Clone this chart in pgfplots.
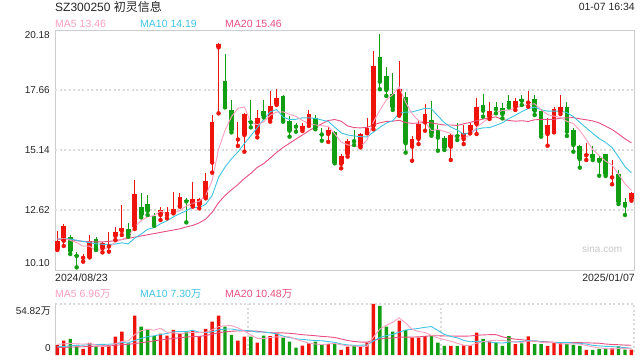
\documentclass[border=0pt]{standalone}
\usepackage{fontspec}
\setmainfont{Liberation Sans}
\newfontfamily\cjk{Noto Sans CJK SC}
\usepackage{pgfplots}
\pgfplotsset{compat=1.18}
\usepackage{pgfplotstable}

\definecolor{kred}{RGB}{238,20,12}
\definecolor{kgreen}{RGB}{18,158,18}
\definecolor{ma5c}{RGB}{250,160,192}
\definecolor{ma10c}{RGB}{64,196,228}
\definecolor{ma20c}{RGB}{232,80,128}
\definecolor{framec}{RGB}{205,205,205}
\definecolor{gridc}{RGB}{218,218,218}

\pgfplotstableread{
i o h l c v
0 10.98 11.74 10.94 11.33 10.75
1 11.33 12.03 11.11 11.96 15.4
4 10.61 10.77 10.45 10.62 6.5
5 10.66 11.57 10.63 11.33 12.9
7 11.01 11.29 10.84 11.22 8.9
8 11.09 11.71 10.87 11.13 10.0
9 11.53 11.92 11.36 11.70 19.7
10 11.74 12.83 11.57 11.86 25.0
12 11.92 13.88 11.82 13.29 42.3
16 12.41 12.76 12.20 12.61 22.9
17 12.41 12.73 12.27 12.55 20.8
18 12.51 13.36 12.48 12.66 26.9
19 12.80 13.32 12.76 13.17 23.3
21 12.80 13.78 12.76 13.07 25.8
22 12.84 13.14 12.69 13.09 20.4
23 13.15 14.19 13.11 13.84 28.0
24 14.61 16.61 14.19 16.32 35.8
25 19.45 19.64 16.68 19.58 42.3
28 15.58 16.32 15.31 15.60 15.4
29 15.77 16.69 15.07 16.65 19.7
31 15.84 16.82 15.67 16.47 13.3
33 16.43 17.62 16.33 16.99 20.4
34 17.08 17.69 17.03 17.32 23.3
38 16.01 16.29 15.94 16.15 10.0
39 16.26 16.82 16.15 16.65 12.6
42 15.81 16.09 15.48 15.98 11.8
44 14.56 14.97 14.37 14.89 5.4
45 14.98 15.60 14.86 15.52 8.9
47 15.31 15.87 15.25 15.80 8.9
48 15.91 16.47 15.84 16.08 13.2
49 16.15 19.30 16.01 18.67 54.82
53 16.62 18.88 16.58 17.69 36.9
55 15.28 15.74 14.69 15.60 18.6
56 15.61 16.40 15.39 16.23 18.6
57 16.30 17.07 15.95 16.65 20.4
61 15.28 15.80 14.72 15.76 9.7
63 15.60 16.19 15.39 15.87 10.4
64 15.98 16.26 15.84 16.19 10.4
65 16.23 17.31 15.81 16.93 24.0
67 16.54 17.14 16.44 16.78 14.3
71 16.96 17.31 16.82 17.20 11.8
73 17.13 17.63 16.96 17.15 20.1
76 15.81 16.47 15.32 16.19 9.7
77 15.91 16.93 15.88 16.86 13.3
78 16.75 17.45 16.65 16.93 13.3
82 14.92 15.42 14.72 14.94 5.6
86 13.99 14.72 13.70 14.00 7.0
89 13.09 13.39 13.01 13.32 5.9
}\redT

\pgfplotstableread{
i o h l c v
2 11.47 11.56 10.77 10.91 17.2
3 10.70 10.87 10.21 10.69 8.9
6 11.39 11.50 10.94 10.99 8.9
11 11.81 12.06 11.50 11.57 12.6
13 12.75 13.32 12.31 12.41 30.5
14 12.87 13.25 12.41 12.58 27.6
15 12.37 12.48 11.95 12.03 20.4
20 13.02 13.11 12.10 12.98 25.0
26 18.04 19.17 16.93 16.96 30.5
27 16.82 17.24 15.88 15.98 21.5
30 16.33 17.24 16.09 16.30 19.7
32 16.78 17.24 16.51 16.57 20.8
35 17.41 17.45 16.33 16.37 18.6
36 16.36 16.57 15.70 15.95 14.3
37 16.19 16.26 15.91 16.12 7.9
40 16.47 16.61 16.01 16.08 14.3
41 15.81 16.05 15.53 15.79 10.75
43 15.91 15.94 14.58 14.61 12.6
46 15.53 15.98 15.35 15.51 9.7
50 19.06 20.01 17.69 18.01 52.7
51 18.25 18.61 17.41 17.66 30.5
52 17.49 18.36 16.82 16.93 25.0
54 17.38 17.59 15.03 15.42 26.9
58 16.40 17.20 15.74 15.84 20.8
59 15.98 16.19 15.11 15.66 13.3
60 15.63 15.73 15.14 15.24 9.7
62 15.74 16.26 15.56 15.72 9.7
66 17.03 17.49 16.54 16.79 17.2
68 16.95 17.17 16.68 16.86 13.3
69 16.89 17.10 16.47 16.65 9.7
70 17.20 17.45 16.93 17.03 20.4
72 17.28 17.45 17.03 17.21 12.6
74 17.28 17.45 16.61 16.79 11.8
75 16.78 16.85 15.70 15.80 11.8
79 16.93 17.14 15.73 15.91 11.8
80 15.98 16.05 15.07 15.35 10.75
81 15.31 15.35 14.40 14.76 9.7
83 14.97 15.31 14.72 14.82 5.6
84 14.82 14.89 14.06 14.68 6.55
85 14.97 14.97 14.05 14.13 6.9
87 14.12 14.30 12.87 12.97 9.2
88 12.96 13.11 12.41 12.80 5.8
}\greenT

\pgfplotstableread{
i a b d
0 11.40 11.40 11.38
1 11.42 11.42 11.40
2 11.35 11.40 11.38
3 11.25 11.35 11.33
4 11.10 11.30 11.30
5 11.10 11.25 11.29
6 10.91 11.20 11.28
7 10.97 11.18 11.28
8 11.06 11.17 11.30
9 11.27 11.19 11.33
10 11.38 11.24 11.38
11 11.50 11.20 11.43
12 11.91 11.44 11.48
13 12.17 11.61 11.53
14 12.34 11.81 11.58
15 12.38 11.88 11.63
16 12.58 12.04 11.68
17 12.44 12.17 11.73
18 12.49 12.33 11.78
19 12.60 12.47 11.83
20 12.79 12.59 11.91
21 12.89 12.74 11.97
22 12.99 12.72 12.08
23 13.23 12.86 12.24
24 13.86 13.23 12.52
25 15.18 13.99 12.93
26 15.96 14.42 13.23
27 16.54 14.77 13.47
28 16.89 15.06 13.69
29 16.95 15.41 13.94
30 16.30 15.74 14.16
31 16.20 16.08 14.41
32 16.32 16.43 14.57
33 16.60 16.74 14.80
34 16.73 16.84 15.04
35 16.74 16.52 15.25
36 16.64 16.42 15.42
37 16.55 16.43 15.60
38 16.38 16.49 15.77
39 16.25 16.49 15.95
40 16.19 16.47 16.10
41 16.16 16.40 16.24
42 16.13 16.34 16.38
43 15.82 16.10 16.42
44 15.47 15.86 16.35
45 15.36 15.77 16.15
46 15.30 15.73 16.08
47 15.27 15.70 16.07
48 15.56 15.69 16.09
49 16.32 15.89 16.19
50 16.81 16.09 16.28
51 17.24 16.27 16.34
52 17.47 16.37 16.35
53 17.79 16.68 16.39
54 17.14 16.73 16.29
55 16.66 16.74 16.26
56 16.37 16.81 16.27
57 16.32 16.89 16.30
58 15.95 16.87 16.28
59 16.00 16.57 16.23
60 15.92 16.29 16.19
61 15.83 16.10 16.19
62 15.64 15.98 16.17
63 15.65 15.80 16.24
64 15.76 15.88 16.30
65 16.09 16.01 16.37
66 16.30 16.07 16.44
67 16.51 16.08 16.49
68 16.71 16.18 16.53
69 16.80 16.28 16.42
70 16.82 16.46 16.38
71 16.90 16.60 16.35
72 16.99 16.75 16.37
73 17.05 16.88 16.34
74 17.08 16.94 16.41
75 16.83 16.83 16.42
76 16.63 16.77 16.42
77 16.56 16.77 16.43
78 16.51 16.78 16.48
79 16.34 16.71 16.49
80 16.25 16.54 16.50
81 15.96 16.30 16.45
82 15.58 16.07 16.41
83 15.16 15.84 16.36
84 14.91 15.62 16.28
85 14.67 15.46 16.14
86 14.51 15.24 16.00
87 14.12 14.85 15.81
88 13.72 14.44 15.61
89 13.44 14.18 15.44
}\maT

\pgfplotstableread{
i a b d
0 11.5 8.8 8.0
1 12.0 9.2 8.2
2 12.5 9.8 8.5
3 12.0 10.3 8.7
4 11.75 10.6 8.9
5 12.18 11.0 9.2
6 10.88 11.2 9.5
7 9.22 11.4 9.8
8 9.44 11.6 10.1
9 12.08 11.92 10.5
10 14.50 13.34 11.0
11 15.24 13.06 11.5
12 21.92 15.57 12.3
13 26.02 17.73 13.2
14 27.60 19.84 14.2
15 26.68 20.59 15.2
16 28.74 21.99 16.2
17 24.44 23.18 17.0
18 23.72 24.87 17.8
19 22.86 25.23 18.57
20 23.78 25.23 19.29
21 24.36 26.55 19.81
22 24.28 24.36 19.97
23 24.50 24.11 20.92
24 27.00 24.93 22.39
25 30.46 27.12 23.86
26 31.40 27.88 24.94
27 31.62 27.95 25.57
28 29.10 26.80 25.84
29 25.88 26.44 25.84
30 21.36 25.91 25.57
31 17.92 24.66 25.61
32 17.78 24.70 24.53
33 18.78 23.94 24.03
34 19.50 22.69 23.81
35 19.28 20.32 23.72
36 19.48 18.70 23.29
37 16.90 17.34 22.65
38 14.82 16.80 21.80
39 12.68 16.09 21.27
40 11.82 15.55 20.73
41 11.11 15.30 19.98
42 11.89 14.40 19.55
43 12.41 13.62 18.78
44 10.97 11.83 17.26
45 9.89 10.86 15.59
46 9.68 10.40 14.55
47 9.10 10.50 13.92
48 9.22 10.82 13.81
49 19.10 15.04 15.56
50 27.86 18.88 17.21
51 32.02 20.85 18.07
52 35.24 22.17 18.28
53 39.98 24.60 19.11
54 34.40 26.75 19.29
55 27.58 27.72 19.29
56 25.20 28.61 19.50
57 24.28 29.76 20.13
58 21.06 30.52 20.67
59 18.34 26.37 20.70
60 16.56 22.07 20.47
61 14.78 19.99 20.42
62 12.64 18.46 20.32
63 10.56 15.81 20.21
64 9.98 14.16 20.46
65 12.84 14.70 21.21
66 14.34 14.56 21.59
67 15.26 13.95 21.86
68 15.84 13.20 21.86
69 15.70 12.84 19.61
70 14.98 13.91 17.99
71 13.90 14.12 17.06
72 13.56 14.41 16.44
73 14.92 15.38 15.60
74 15.34 15.52 14.84
75 13.62 14.30 14.50
76 13.20 13.55 14.06
77 13.34 13.45 13.70
78 11.98 13.45 13.33
79 11.98 13.66 13.25
80 11.77 12.70 13.30
81 11.77 12.49 13.30
82 10.23 11.79 13.10
83 8.69 10.34 12.86
84 7.64 9.81 12.67
85 6.87 9.32 11.81
86 6.33 9.05 11.30
87 7.05 8.64 11.05
88 7.09 7.89 10.67
89 6.96 7.30 10.48
}\vmaT

\begin{document}
\begin{tikzpicture}
\fill[white] (0bp,0bp) rectangle (640bp,360bp);

% ---------------- price panel ----------------
\begin{axis}[
  at={(55bp,90bp)}, anchor=south west,
  width=579bp, height=240bp, scale only axis,
  xmin=-0.36, xmax=89.4, ymin=10.10, ymax=20.18,
  axis line style={framec, line width=0.8bp},
  xtick=\empty,
  ytick={19.97,17.66,15.14,12.62,10.38},
  yticklabels={20.18,17.66,15.14,12.62,10.10},
  major tick length=0pt,
  yticklabel style={font=\fontsize{10bp}{12bp}\selectfont, text=black!85, inner sep=0pt, anchor=east, xshift=-5bp},
  extra y ticks={17.66,15.14,12.62},
  extra y tick labels={,,},
  extra y tick style={grid=major, major grid style={gridc, line width=1.3bp, dash pattern=on 2bp off 2.5bp}},
]
% wicks
\addplot[kred, only marks, mark=none, error bars/.cd, y dir=plus, y explicit, error mark=none,
  error bar style={kred, line width=0.9bp}]
  table[x=i, y=l, y error plus expr=\thisrow{h}-\thisrow{l}] {\redT};
\addplot[kgreen, only marks, mark=none, error bars/.cd, y dir=plus, y explicit, error mark=none,
  error bar style={kgreen, line width=0.9bp}]
  table[x=i, y=l, y error plus expr=\thisrow{h}-\thisrow{l}] {\greenT};
% bodies
\addplot[kred, only marks, mark=none, error bars/.cd, y dir=plus, y explicit, error mark=none,
  error bar style={kred, line width=4.7bp}]
  table[x=i, y=o, y error plus expr={max(\thisrow{c}-\thisrow{o},0.04)}] {\redT};
\addplot[kgreen, only marks, mark=none, error bars/.cd, y dir=plus, y explicit, error mark=none,
  error bar style={kgreen, line width=4.7bp}]
  table[x=i, y=c, y error plus expr={max(\thisrow{o}-\thisrow{c},0.04)}] {\greenT};
% moving averages
\addplot[ma20c, line width=0.9bp, mark=none] table[x=i, y=d] {\maT};
\addplot[ma10c, line width=0.9bp, mark=none] table[x=i, y=b] {\maT};
\addplot[ma5c, line width=0.9bp, mark=none] table[x=i, y=a] {\maT};
\end{axis}

% ---------------- volume panel ----------------
\begin{axis}[
  at={(55bp,5bp)}, anchor=south west,
  width=579bp, height=51bp, scale only axis,
  xmin=-0.36, xmax=89.4, ymin=0, ymax=54.82,
  axis line style={draw=none},
  xtick=\empty,
  ytick={47.3,7.5},
  yticklabels={54.82{\cjk 万},0},
  major tick length=0pt,
  yticklabel style={font=\fontsize{10bp}{12bp}\selectfont, text=black!85, inner sep=0pt, anchor=east, xshift=-4bp},
  clip=false,
]
\draw[framec, line width=0.8bp] (rel axis cs:0,0) -- (rel axis cs:0,1);
\draw[gridc, line width=1.3bp, dash pattern=on 2bp off 2.5bp] (rel axis cs:0,1) -- (rel axis cs:1,1) -- (rel axis cs:1,0);
\draw[gridc, line width=1.3bp, dash pattern=on 2bp off 2.5bp] (rel axis cs:0.3333,0) -- (rel axis cs:0.3333,1);
\draw[gridc, line width=1.3bp, dash pattern=on 2bp off 2.5bp] (rel axis cs:0.6667,0) -- (rel axis cs:0.6667,1);
\addplot[ybar, bar width=3.4bp, bar shift=0pt, fill=kred, draw=none] table[x=i, y=v] {\redT};
\addplot[ybar, bar width=3.4bp, bar shift=0pt, fill=kgreen, draw=none] table[x=i, y=v] {\greenT};
\addplot[ma20c, line width=0.9bp, mark=none] table[x=i, y=d] {\vmaT};
\addplot[ma10c, line width=0.9bp, mark=none] table[x=i, y=b] {\vmaT};
\addplot[ma5c, line width=0.9bp, mark=none] table[x=i, y=a] {\vmaT};
\end{axis}

% ---------------- texts ----------------
\node[anchor=base west, inner sep=0pt, font=\fontsize{12bp}{14bp}\selectfont, text=black!85] at (55bp,348bp) {SZ300250 {\cjk 初灵信息}};
\node[anchor=base east, inner sep=0pt, font=\fontsize{10.5bp}{12bp}\selectfont, text=black!85] at (635bp,349bp) {01-07 16:34};
\node[anchor=base west, inner sep=0pt, font=\fontsize{10.5bp}{12bp}\selectfont, text=ma5c] at (55bp,332.5bp) {MA5 13.46};
\node[anchor=base west, inner sep=0pt, font=\fontsize{10.5bp}{12bp}\selectfont, text=ma10c] at (140bp,332.5bp) {MA10 14.19};
\node[anchor=base west, inner sep=0pt, font=\fontsize{10.5bp}{12bp}\selectfont, text=ma20c] at (225bp,332.5bp) {MA20 15.46};
\node[anchor=base west, inner sep=0pt, font=\fontsize{10.5bp}{12bp}\selectfont, text=black!85] at (55bp,78.5bp) {2024/08/23};
\node[anchor=base east, inner sep=0pt, font=\fontsize{10.5bp}{12bp}\selectfont, text=black!85] at (635bp,78.5bp) {2025/01/07};
\node[anchor=base west, inner sep=0pt, font=\fontsize{10.5bp}{12bp}\selectfont, text=ma5c] at (55bp,62bp) {MA5 6.96{\cjk 万}};
\node[anchor=base west, inner sep=0pt, font=\fontsize{10.5bp}{12bp}\selectfont, text=ma10c] at (140bp,62bp) {MA10 7.30{\cjk 万}};
\node[anchor=base west, inner sep=0pt, font=\fontsize{10.5bp}{12bp}\selectfont, text=ma20c] at (225bp,62bp) {MA20 10.48{\cjk 万}};
\node[anchor=base west, inner sep=0pt, font=\fontsize{10bp}{12bp}\selectfont, text=black!22] at (582bp,107bp) {sina.com};
\end{tikzpicture}
\end{document}
